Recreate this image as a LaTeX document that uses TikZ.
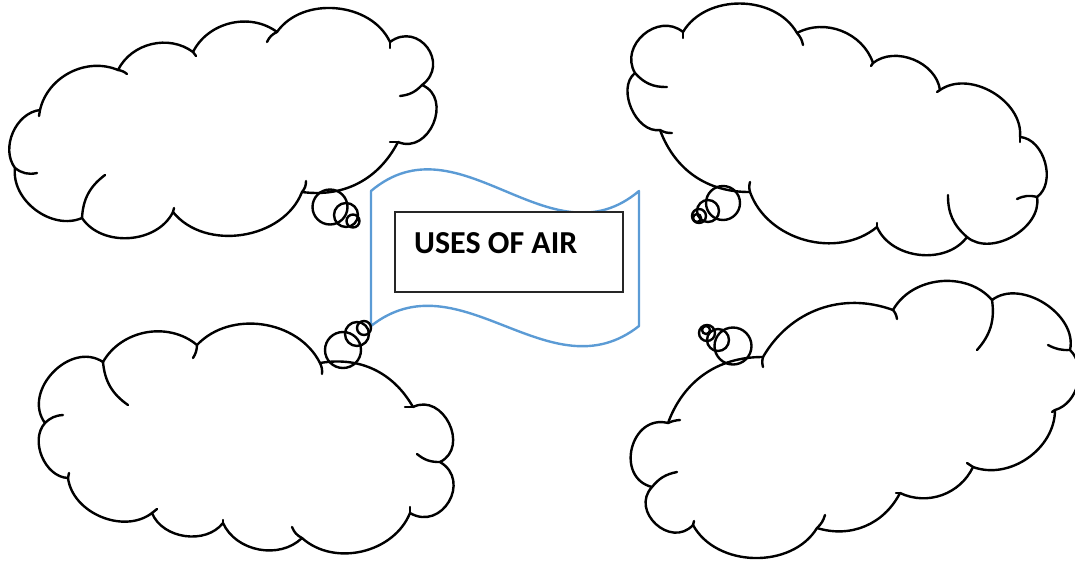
\documentclass[tikz,border=0pt]{standalone}
\usepackage{fontspec}
\newfontfamily\carlito{Carlito}
\definecolor{flagblue}{HTML}{5B9BD5}
\definecolor{boxline}{HTML}{262626}
\begin{document}
\begin{tikzpicture}[x=1pt,y=-1pt,
  cl/.style={line width=2.4pt, line join=round, line cap=round, black},
  bub/.style={line width=2.4pt, black},
  flagline/.style={line width=2.4pt, draw=flagblue, line join=round}]
\useasboundingbox (0,0) rectangle (1075,563);

% ---------- flag ----------
\draw[flagline] (371,191) .. controls (460,116) and (550,266) .. (639,191)
  -- (639,326) .. controls (550,396) and (460,256) .. (371,326) -- cycle;
\node[draw=boxline, line width=1.6pt, fill=white, minimum width=228pt,
  minimum height=80pt, anchor=north west, inner sep=0pt] (box) at (394,211) {};
\node[font=\carlito\bfseries\fontsize{32}{38}\selectfont, anchor=base west,
  inner sep=0pt] (title) at (414,253) {USES OF AIR};

% ---------- cloud 1 (top left) ----------
\draw[cl] (15,168) to[bend right=60] (82,218) to[bend right=60] (173,212)
  to[bend right=60] (302,192) to[bend right=35] (398,142)
  to[bend right=90,looseness=1.4] (422,85) to[bend right=90,looseness=1.7] (390,42)
  to[bend right=60] (277,32) to[bend right=50] (193,52) to[bend right=50] (118,70)
  to[bend right=50] (40,110) to[bend right=60] (15,168);
\draw[cl] (15,168) to[bend right=25] (37,173);
\draw[cl] (82,218) to[bend left=25] (105,175);
\draw[cl] (173,212) -- (174,208);
\draw[cl] (302,192) to[bend right=20] (306,181);
\draw[cl] (398,142) -- (390,142);
\draw[cl] (422,85) to[bend left=20] (400,96);
\draw[cl] (390,42) -- (390,48);
\draw[cl] (277,32) to[bend right=20] (267,42);
\draw[cl] (193,52) -- (196,56);
\draw[cl] (118,70) to[bend left=15] (127,74);
\draw[cl] (40,110) -- (39,116);
\draw[bub] (330,207) circle[radius=17.5pt];
\draw[bub] (346,215) circle[radius=12pt];
\draw[bub] (353,221) circle[radius=6.5pt];

% ---------- cloud 2 (top right) ----------
\draw[cl] (683,32) to[bend right=80,looseness=1.3] (635,73) to[bend right=75] (660,130)
  to[bend right=35] (750,192) to[bend right=55] (877,227) to[bend right=60] (967,237)
  to[bend right=70] (1037,197) to[bend right=70] (1020,137) to[bend right=65] (940,90)
  to[bend right=60] (873,63) to[bend right=50] (797,33) to[bend right=60] (683,32);
\draw[cl] (683,32) -- (683,38);
\draw[cl] (635,73) to[bend right=25] (667,87);
\draw[cl] (660,130) to[bend right=15] (672,133);
\draw[cl] (750,192) to[bend left=15] (750,182);
\draw[cl] (877,227) -- (877,223);
\draw[cl] (967,237) to[bend left=25] (948,195);
\draw[cl] (1037,197) to[bend right=20] (1017,199);
\draw[cl] (1020,137) -- (1020,142);
\draw[cl] (940,90) -- (937,92);
\draw[cl] (873,63) -- (871,66);
\draw[cl] (797,33) to[bend left=15] (803,45);
\draw[bub] (723,203) circle[radius=17pt];
\draw[bub] (708,211) circle[radius=11pt];
\draw[bub] (699,216) circle[radius=7pt];
\draw[bub] (697,218) circle[radius=4pt];

% ---------- cloud 3 (bottom left) ----------
\draw[cl] (103,362) to[bend left=50] (197,345) to[bend left=55] (320,363)
  to[bend left=35] (413,407) to[bend left=90,looseness=1.4] (440,462)
  to[bend left=90,looseness=1.6] (410,513) to[bend left=55] (302,538)
  to[bend left=55] (223,523) to[bend left=60] (152,513) to[bend left=60] (68,478)
  to[bend left=65] (45,423) to[bend left=80,looseness=1.2] (103,362);
\draw[cl] (103,362) to[bend right=25] (128,405);
\draw[cl] (197,345) to[bend left=15] (193,358);
\draw[cl] (320,363) to[bend left=15] (322,374);
\draw[cl] (413,407) -- (405,407);
\draw[cl] (440,462) to[bend left=20] (417,454);
\draw[cl] (410,513) -- (410,507);
\draw[cl] (302,538) to[bend left=20] (292,527);
\draw[cl] (223,523) -- (223,520);
\draw[cl] (152,513) -- (157,509);
\draw[cl] (68,478) -- (69,473);
\draw[cl] (45,423) to[bend left=20] (63,415);
\draw[bub] (343,350) circle[radius=18pt];
\draw[bub] (357,334) circle[radius=12pt];
\draw[bub] (364,328) circle[radius=7pt];

% ---------- cloud 4 (bottom right) ----------
\draw[cl] (763,357) to[bend left=40] (893,310) to[bend left=55] (992,300)
  to[bend left=70] (1070,350) to[bend left=60] (1055,410) to[bend left=55] (973,467)
  to[bend left=45] (900,493) to[bend left=40] (817,528) to[bend left=60] (693,525)
  to[bend left=90,looseness=1.5] (652,487) to[bend left=90,looseness=1.5] (668,423)
  to[bend left=35] (763,357);
\draw[cl] (763,357) to[bend right=15] (763,367);
\draw[cl] (893,310) to[bend left=15] (897,319);
\draw[cl] (992,300) to[bend left=25] (977,350);
\draw[cl] (1070,350) to[bend left=15] (1048,345);
\draw[cl] (1055,410) -- (1052,412);
\draw[cl] (973,467) -- (967,463);
\draw[cl] (900,493) -- (896,493);
\draw[cl] (817,528) to[bend right=15] (825,515);
\draw[cl] (693,525) -- (694,521);
\draw[cl] (652,487) to[bend left=20] (677,472);
\draw[cl] (668,423) to[bend left=10] (680,420);
\draw[bub] (733,346) circle[radius=18.5pt];
\draw[bub] (718,340) circle[radius=11pt];
\draw[bub] (707,333) circle[radius=8pt];
\draw[bub] (706,330) circle[radius=4pt];
\end{tikzpicture}
\end{document}
